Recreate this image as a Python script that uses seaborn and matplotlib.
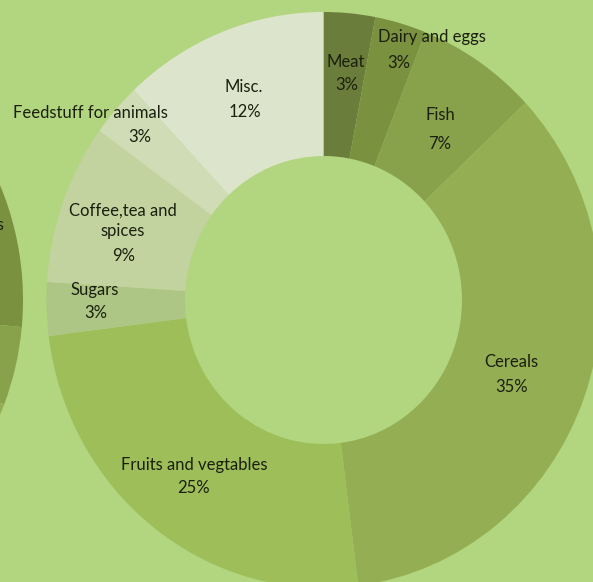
import matplotlib
matplotlib.use("Agg")
import matplotlib.pyplot as plt
import seaborn as sns

# Share of food import spending by category (%)
categories = ["Meat", "Dairy and eggs", "Fish", "Cereals", "Fruits and vegtables",
              "Sugars", "Coffee,tea and\nspices", "Feedstuff for animals", "Misc."]
shares = [3, 3, 7, 35, 25, 3, 9, 3, 12]

# Neighbouring donut (same categories, only its right edge is in view)
other_shares = [5, 21.5, 4.4, 30, 25, 3, 3, 2, 6.1]

palette = sns.color_palette(["#6b7d3a", "#7a913f", "#87a24b", "#93ae53", "#9ebe5a",
                             "#adc686", "#c2d3a0", "#cfdcb6", "#dce5cc"])
bg = "#b1d67f"
text_color = "#1b1f0e"

sns.set_theme(style="white", rc={"figure.facecolor": bg, "axes.facecolor": bg})
plt.rcParams["font.family"] = ["Lato", "DejaVu Sans"]

W, H = 593, 582
fig = plt.figure(figsize=(W / 100, H / 100), dpi=100)
fig.patch.set_facecolor(bg)


def donut_axes(cx, cy, rx, ry):
    """Axes whose (-1, 1) box spans an ellipse centred at pixel (cx, cy)."""
    ax = fig.add_axes([(cx - rx) / W, (H - (cy + ry)) / H, 2 * rx / W, 2 * ry / H])
    ax.set_facecolor("none")
    return ax


def draw_donut(ax, values):
    ax.pie(values, colors=palette, startangle=90, counterclock=False, radius=1,
           wedgeprops=dict(width=0.5, linewidth=0))
    ax.set_aspect("auto")
    ax.set_xlim(-1, 1)
    ax.set_ylim(-1, 1)
    ax.axis("off")


RX, RY = 277, 288
draw_donut(donut_axes(-254, 300, RX, RY), other_shares)
draw_donut(donut_axes(323.5, 300, RX, RY), shares)

# Text layer in pixel coordinates
ov = fig.add_axes([0, 0, 1, 1])
ov.set_xlim(0, W)
ov.set_ylim(H, 0)
ov.axis("off")
ov.set_facecolor("none")

name_pos = [(346, 62), (432, 37), (440, 115), (511, 362), (194, 465),
            (95, 290), (123, 221), (90, 113), (244, 87)]
pct_pos = [(347, 85), (399, 63), (440, 144), (512, 387), (193, 488),
           (96, 313), (124, 256), (140, 137), (245, 112)]

fs = 12
for name, v, (nx, ny), (px, py) in zip(categories, shares, name_pos, pct_pos):
    ov.text(nx, ny, name, ha="center", va="center", fontsize=fs,
            color=text_color, linespacing=1.3)
    ov.text(px, py, f"{v}%", ha="center", va="center", fontsize=fs, color=text_color)

# Label of the neighbouring donut, running off the left edge
ov.text(4, 225, categories[1], ha="right", va="center", fontsize=fs, color=text_color)

fig.savefig("out.png", dpi=100, facecolor=bg)
